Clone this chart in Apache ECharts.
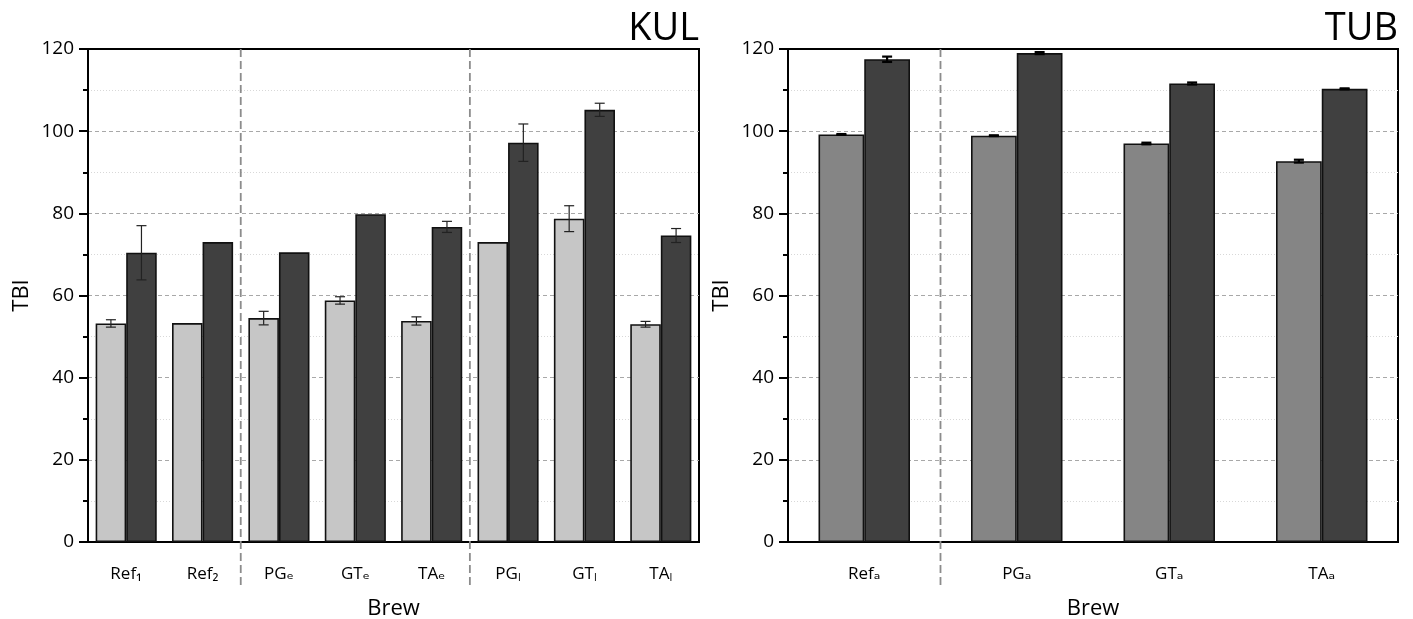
<!DOCTYPE html>
<html><head><meta charset="utf-8">
<script src="https://cdn.jsdelivr.net/npm/echarts@6/dist/echarts.min.js"></script>
<style>html,body{margin:0;padding:0;background:#fff}#chart{width:1413px;height:619px}</style>
</head><body><div id="chart"></div>
<script>
// ---- data ----
const kulCategories = ['Ref₁', 'Ref₂', 'PGₑ', 'GTₑ', 'TAₑ', 'PGₗ', 'GTₗ', 'TAₗ'];
const kulLight    = [53.2, 53.3, 54.5, 58.8, 53.8, 73.0, 78.7, 53.0];
const kulLightErr = [0.9, 0, 1.65, 0.9, 1.0, 0, 3.15, 0.7];
const kulDark     = [70.4, 73.0, 70.5, 79.8, 76.7, 97.2, 105.2, 74.6];
const kulDarkErr  = [6.6, 0, 0, 0, 1.35, 4.55, 1.6, 1.7];
const kulSeparatorsAfter = [1, 4];

const tubCategories = ['Refₐ', 'PGₐ', 'GTₐ', 'TAₐ'];
const tubLight    = [99.2, 98.9, 97.0, 92.7];
const tubLightErr = [0.1, 0.1, 0.2, 0.35];
const tubDark     = [117.5, 119.0, 111.6, 110.3];
const tubDarkErr  = [0.65, 0.25, 0.25, 0.12];
const tubSeparatorsAfter = [0];

const yTicks = [0, 20, 40, 60, 80, 100, 120];
const panelTitles = ['KUL', 'TUB'];
const yName = 'TBI';
const xName = 'Brew';

// ---- rendering ----
const FONT = "'Open Sans', 'DejaVu Sans', sans-serif";
const yMin = yTicks[0], yMax = yTicks[yTicks.length - 1], yStep = yTicks[1] - yTicks[0];

function errRender(offsetFrac, capW, lw, color) {
  return function (params, api) {
    const i = api.value(0), v = api.value(1), e = api.value(2);
    if (!e) return null;
    const band = api.size([1, 0])[0];
    const x = api.coord([i, v])[0] + offsetFrac * band;
    const yt = api.coord([i, v + e])[1];
    const yb = api.coord([i, v - e])[1];
    const st = { stroke: color, lineWidth: lw };
    return { type: 'group', children: [
      { type: 'line', shape: { x1: x, y1: yt, x2: x, y2: yb }, style: st },
      { type: 'line', shape: { x1: x - capW / 2, y1: yt, x2: x + capW / 2, y2: yt }, style: st },
      { type: 'line', shape: { x1: x - capW / 2, y1: yb, x2: x + capW / 2, y2: yb }, style: st }
    ]};
  };
}
function sepRender(params, api) {
  const i = api.value(0);
  const band = api.size([1, 0])[0];
  const x = api.coord([i, 0])[0] + band / 2;
  const y0 = api.coord([i, yMax])[1];
  const y1 = api.coord([i, yMin])[1] + 44;
  return { type: 'line', shape: { x1: x, y1: y0, x2: x, y2: y1 },
    style: { stroke: '#8c8c8c', lineWidth: 1.8, lineDash: [8, 4] } };
}

function xAxisCfg(idx, cats) {
  return {
    type: 'category', gridIndex: idx, data: cats,
    name: xName, nameLocation: 'middle', nameGap: 56,
    nameTextStyle: { fontFamily: FONT, fontSize: 22, color: '#000' },
    axisLine: { lineStyle: { color: '#000', width: 2 } },
    axisTick: { alignWithLabel: true, length: 9, inside: false, lineStyle: { color: '#000', width: 2 } },
    axisLabel: { fontFamily: FONT, fontSize: 17, color: '#000', margin: 24 },
    splitLine: { show: false }
  };
}
function yAxisCfg(idx) {
  return {
    type: 'value', gridIndex: idx, min: yMin, max: yMax, interval: yStep,
    name: yName, nameLocation: 'middle', nameGap: 55,
    nameTextStyle: { fontFamily: FONT, fontSize: 22, color: '#000' },
    axisLine: { show: true, lineStyle: { color: '#000', width: 2 } },
    axisTick: { show: true, length: 9, lineStyle: { color: '#000', width: 2 } },
    minorTick: { show: true, splitNumber: 2, length: 5, lineStyle: { color: '#000', width: 2 } },
    axisLabel: { fontFamily: FONT, fontSize: 19, color: '#000', margin: 14 },
    splitLine: { show: true, showMinLine: false, showMaxLine: false, lineStyle: { color: '#a8a8a8', type: [4, 3], width: 1 } },
    minorSplitLine: { show: true, lineStyle: { color: '#d8d8d8', type: [1, 2], width: 1 } }
  };
}
function barSeries(idx, data, color, gap) {
  return {
    type: 'bar', xAxisIndex: idx, yAxisIndex: idx, data: data,
    barGap: '0%', barCategoryGap: gap,
    itemStyle: { color: color, borderColor: '#111', borderWidth: 1.6 },
    z: 2
  };
}
function errSeries(idx, vals, errs, offsetFrac, capW, lw, color) {
  return {
    type: 'custom', xAxisIndex: idx, yAxisIndex: idx,
    data: vals.map((v, i) => [i, v, errs[i]]),
    renderItem: errRender(offsetFrac, capW, lw, color), z: 5, silent: true
  };
}
function sepSeries(idx, afters) {
  return {
    type: 'custom', xAxisIndex: idx, yAxisIndex: idx, clip: false,
    data: afters.map(a => [a, 0]), renderItem: sepRender, z: 1, silent: true
  };
}

const chart = echarts.init(document.getElementById('chart'), null, { renderer: 'canvas' });
chart.setOption({
  backgroundColor: '#fff',
  animation: false,
  title: [
    { text: panelTitles[0], right: 714, top: 10, textStyle: { fontFamily: FONT, fontSize: 38, fontWeight: 'normal', color: '#000' }, padding: 0 },
    { text: panelTitles[1], right: 15, top: 10, textStyle: { fontFamily: FONT, fontSize: 38, fontWeight: 'normal', color: '#000' }, padding: 0 }
  ],
  grid: [
    { left: 88, right: 714, top: 49, bottom: 77, outerBoundsMode: 'none', containLabel: false, show: true, borderColor: '#000', borderWidth: 2, backgroundColor: 'transparent' },
    { left: 788, right: 15, top: 49, bottom: 77, outerBoundsMode: 'none', containLabel: false, show: true, borderColor: '#000', borderWidth: 2, backgroundColor: 'transparent' }
  ],
  xAxis: [xAxisCfg(0, kulCategories), xAxisCfg(1, tubCategories)],
  yAxis: [yAxisCfg(0), yAxisCfg(1)],
  series: [
    sepSeries(0, kulSeparatorsAfter),
    sepSeries(1, tubSeparatorsAfter),
    barSeries(0, kulLight, '#c6c6c6', '20%'),
    barSeries(0, kulDark, '#404040', '20%'),
    barSeries(1, tubLight, '#858585', '40%'),
    barSeries(1, tubDark, '#404040', '40%'),
    errSeries(0, kulLight, kulLightErr, -0.2, 10, 1.2, '#222'),
    errSeries(0, kulDark, kulDarkErr, 0.2, 10, 1.2, '#222'),
    errSeries(1, tubLight, tubLightErr, -0.15, 10, 2.2, '#000'),
    errSeries(1, tubDark, tubDarkErr, 0.15, 10, 2.2, '#000')
  ]
});
</script></body></html>
